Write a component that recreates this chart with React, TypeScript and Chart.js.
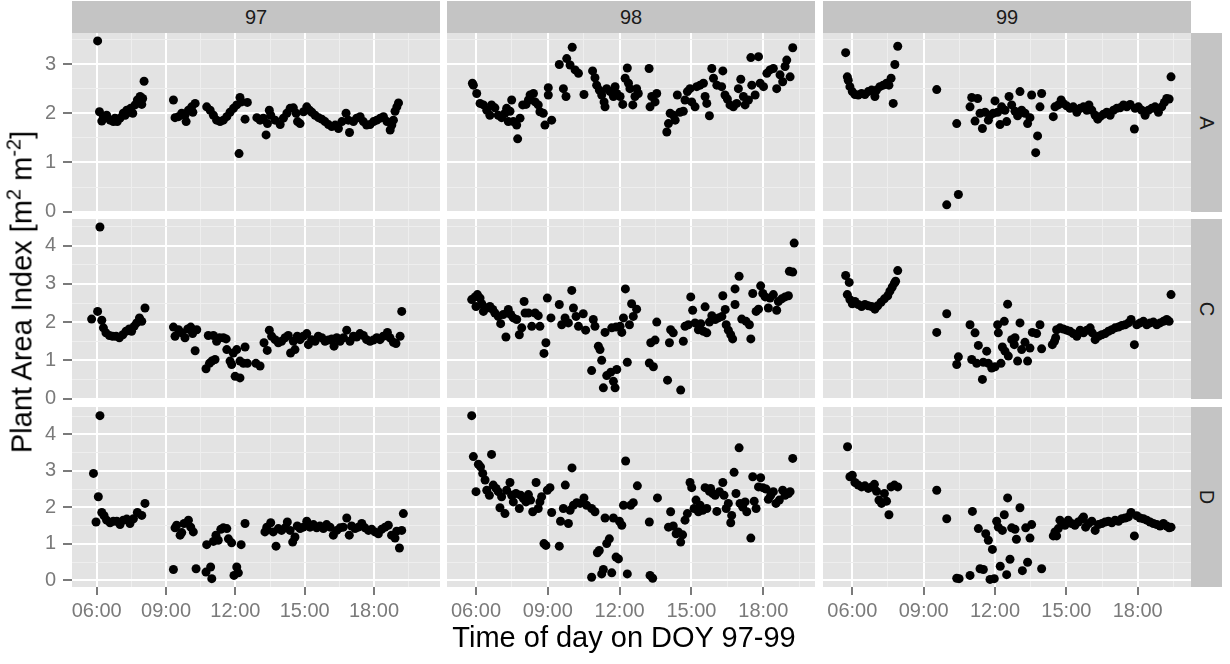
import React, { useEffect, useRef } from 'react';
import { Chart, registerables } from 'chart.js';

Chart.register(...registerables);

// ---------------- data ----------------
const colLabels = ['97', '98', '99'];
const rowLabels = ['A', 'C', 'D'];

const xTickValues = [4.5, 6, 7.5, 9, 10.5, 12, 13.5, 15, 16.5, 18, 19.5, 21];
const yTickValues = [0, 0.5, 1, 1.5, 2, 2.5, 3, 3.5, 4, 4.5];

// x (hour of day) ranges per column, y ranges per row (free scales)
const xRanges: [number, number][] = [[4.931, 20.856], [4.789, 20.16], [4.768, 20.24]];
const yRanges: [number, number][] = [[-0.006, 3.63], [-0.013, 4.7], [-0.178, 4.747]];

const d97A: [number, number][] = [
  [6.04, 3.47], [6.12, 2.03], [6.22, 1.84], [6.29, 1.93], [6.43, 1.96], [6.58, 1.86], [6.72, 1.83], [6.79, 1.9], [6.89, 1.83], [7.01, 1.9], [7.15, 2.0], [7.23, 1.96], [7.3, 2.06], [7.41, 2.02], [7.47, 2.1], [7.56, 2.0], [7.66, 2.17], [7.76, 2.27], [7.88, 2.34], [7.95, 2.18], [7.99, 2.3], [8.05, 2.65],
  [9.32, 2.27], [9.39, 1.91], [9.54, 1.93], [9.68, 2.0], [9.82, 1.96], [9.87, 1.83], [9.97, 2.06], [10.11, 2.13], [10.16, 2.02], [10.26, 2.2],
  [10.76, 2.13], [10.91, 2.06], [11.05, 1.96], [11.19, 1.86], [11.34, 1.83], [11.48, 1.86], [11.63, 1.93], [11.77, 2.02], [11.92, 2.1], [12.06, 2.17], [12.16, 1.18], [12.2, 2.32], [12.27, 2.23], [12.42, 1.88], [12.52, 2.22],
  [12.93, 1.91], [13.07, 1.86], [13.21, 1.9], [13.33, 1.56], [13.39, 1.79], [13.47, 2.06], [13.53, 1.96], [13.72, 1.86], [13.94, 1.77], [14.08, 1.9], [14.23, 2.0], [14.37, 2.1], [14.51, 2.11], [14.63, 2.0], [14.69, 1.83], [14.8, 1.79], [14.95, 2.03], [15.09, 2.13], [15.21, 2.06], [15.31, 2.02], [15.45, 1.96], [15.6, 1.91], [15.74, 1.88], [15.88, 1.83], [16.03, 1.77], [16.17, 1.73], [16.32, 1.76], [16.46, 1.69], [16.61, 1.83], [16.79, 2.0], [16.89, 1.86], [16.94, 1.61], [17.11, 1.83], [17.25, 1.9], [17.4, 1.93], [17.54, 1.83], [17.68, 1.76], [17.83, 1.77], [17.98, 1.83], [18.12, 1.86], [18.27, 1.9], [18.41, 1.93], [18.56, 1.83], [18.7, 1.66], [18.77, 1.76], [18.84, 1.86], [18.91, 2.04], [18.99, 2.13], [19.06, 2.21],
];

const d98A: [number, number][] = [
  [5.85, 2.61], [5.89, 2.57], [6.03, 2.4], [6.17, 2.2], [6.31, 2.17], [6.45, 2.06], [6.58, 1.96], [6.65, 2.17], [6.79, 2.11], [6.93, 1.96], [7.07, 1.91], [7.21, 2.0], [7.28, 2.1], [7.35, 1.83], [7.42, 2.04], [7.49, 2.27], [7.56, 1.83], [7.7, 1.76], [7.74, 1.48], [7.84, 1.9], [7.95, 2.17], [8.09, 2.18], [8.19, 2.27], [8.26, 2.37], [8.4, 2.4], [8.47, 2.23], [8.6, 2.17], [8.67, 2.03], [8.81, 2.0], [8.88, 1.76], [9.02, 2.52], [9.02, 2.37], [9.16, 1.86],
  [9.48, 2.99], [9.65, 2.5], [9.76, 2.34], [9.79, 3.11], [9.93, 2.98], [10.02, 3.34], [10.14, 2.88], [10.28, 2.81], [10.51, 2.38], [10.87, 2.86], [10.97, 2.72], [11.04, 2.57], [11.15, 2.47], [11.25, 2.37], [11.35, 2.23], [11.39, 2.13], [11.46, 2.5], [11.6, 2.44], [11.74, 2.34], [11.81, 2.54], [11.88, 2.4], [12.02, 2.34], [12.13, 2.18], [12.23, 2.71], [12.32, 2.92], [12.37, 2.61], [12.43, 2.5], [12.55, 2.17], [12.64, 2.34], [12.71, 2.5], [12.78, 2.4], [13.23, 2.91], [13.27, 2.13], [13.34, 2.34], [13.48, 2.23], [13.55, 2.4],
  [13.97, 1.62], [14.04, 1.79], [14.11, 2.0], [14.25, 1.96], [14.32, 1.86], [14.41, 2.37], [14.52, 2.02], [14.66, 2.04], [14.73, 2.27], [14.83, 2.44], [14.94, 2.5], [15.01, 2.23], [15.15, 2.13], [15.22, 2.54], [15.36, 2.57], [15.5, 2.61], [15.57, 2.34], [15.64, 2.2], [15.75, 1.95], [15.85, 2.91], [15.92, 2.71], [16.06, 2.57], [16.26, 2.54], [16.31, 2.86], [16.4, 2.37], [16.5, 2.29], [16.61, 2.17], [16.75, 2.13], [16.89, 2.2], [16.96, 2.5], [17.06, 2.69], [17.17, 2.34], [17.24, 2.17], [17.38, 2.27], [17.48, 3.13], [17.52, 2.57], [17.66, 2.37], [17.8, 3.15], [17.87, 2.61], [18.01, 2.54], [18.15, 2.81], [18.28, 2.88], [18.42, 2.91], [18.56, 2.5], [18.7, 2.78], [18.81, 2.64], [18.91, 2.95], [18.98, 3.08], [19.12, 2.74], [19.23, 3.33],
];

const d99A: [number, number][] = [
  [5.72, 3.23], [5.79, 2.74], [5.83, 2.67], [5.9, 2.54], [6.0, 2.44], [6.11, 2.38], [6.25, 2.37], [6.39, 2.4], [6.53, 2.38], [6.67, 2.44], [6.81, 2.47], [6.95, 2.34], [7.02, 2.47], [7.16, 2.54], [7.3, 2.57], [7.44, 2.61], [7.54, 2.57], [7.63, 2.71], [7.72, 2.2], [7.79, 2.99], [7.91, 3.36],
  [9.55, 2.48], [9.97, 0.14], [10.46, 0.35], [10.39, 1.79],
  [10.95, 2.13], [11.02, 2.32], [11.16, 1.84], [11.27, 2.3], [11.37, 2.0], [11.47, 1.69], [11.58, 2.02], [11.72, 1.86], [11.79, 1.96], [11.93, 2.0], [12.0, 2.25], [12.11, 2.02], [12.21, 1.77], [12.28, 2.13], [12.42, 2.06], [12.49, 1.83], [12.59, 2.34], [12.7, 2.17], [12.84, 2.04], [12.95, 1.95], [13.05, 2.44], [13.12, 2.06], [13.26, 2.0], [13.37, 1.79], [13.47, 1.91], [13.54, 2.37], [13.71, 1.2], [13.79, 1.54], [13.89, 2.13], [13.96, 2.4],
  [14.45, 1.93], [14.52, 2.13], [14.66, 2.17], [14.78, 2.27], [14.87, 2.2], [15.01, 2.15], [15.15, 2.1], [15.29, 2.13], [15.44, 2.02], [15.58, 2.1], [15.72, 2.13], [15.86, 2.06], [15.95, 2.17], [16.07, 2.06], [16.21, 1.96], [16.32, 1.88], [16.42, 1.93], [16.56, 1.98], [16.7, 2.02], [16.84, 1.96], [16.98, 2.06], [17.12, 2.1], [17.26, 2.11], [17.4, 2.17], [17.54, 2.13], [17.68, 2.18], [17.86, 1.68], [17.89, 2.1], [18.03, 2.13], [18.17, 2.06], [18.31, 1.96], [18.45, 2.06], [18.59, 2.1], [18.73, 2.13], [18.87, 2.02], [19.01, 2.13], [19.12, 2.22], [19.22, 2.3], [19.32, 2.29], [19.4, 2.74],
];

const d97C: [number, number][] = [
  [5.78, 2.08], [6.04, 2.28], [6.14, 4.49], [6.22, 2.05], [6.29, 1.85], [6.4, 1.72], [6.55, 1.65], [6.69, 1.63], [6.84, 1.63], [6.98, 1.59], [7.13, 1.67], [7.27, 1.76], [7.41, 1.82], [7.51, 1.76], [7.62, 1.89], [7.73, 1.98], [7.85, 2.11], [7.95, 2.02], [8.09, 2.37],
  [9.32, 1.87], [9.39, 1.63], [9.54, 1.8], [9.68, 1.72], [9.82, 1.59], [9.94, 1.82], [10.07, 1.87], [10.15, 1.7], [10.26, 1.25], [10.33, 1.8],
  [10.73, 0.78], [10.83, 1.65], [10.88, 0.92], [10.98, 0.98], [11.05, 1.65], [11.12, 1.02], [11.19, 1.5], [11.31, 1.59], [11.48, 1.59], [11.6, 1.56], [11.63, 1.28], [11.77, 0.98], [11.84, 0.89], [11.91, 1.19], [11.99, 0.58], [12.06, 1.28], [12.2, 0.54], [12.2, 0.98], [12.35, 0.92], [12.42, 1.35], [12.52, 0.92], [12.89, 0.92], [13.07, 0.85],
  [13.24, 1.46], [13.38, 1.26], [13.47, 1.79], [13.57, 1.63], [13.72, 1.54], [13.86, 1.46], [14.0, 1.5], [14.15, 1.59], [14.29, 1.65], [14.39, 1.19], [14.51, 1.5], [14.58, 1.28], [14.68, 1.63], [14.8, 1.54], [14.94, 1.63], [15.09, 1.7], [15.16, 1.41], [15.3, 1.54], [15.45, 1.5], [15.59, 1.63], [15.74, 1.59], [15.88, 1.5], [16.02, 1.53], [16.17, 1.56], [16.27, 1.37], [16.39, 1.59], [16.53, 1.5], [16.68, 1.59], [16.82, 1.79], [16.96, 1.5], [17.11, 1.63], [17.25, 1.61], [17.39, 1.7], [17.54, 1.65], [17.68, 1.54], [17.83, 1.5], [17.97, 1.53], [18.12, 1.59], [18.26, 1.54], [18.4, 1.63], [18.58, 1.73], [18.69, 1.59], [18.84, 1.47], [18.95, 1.44], [19.13, 1.63], [19.2, 2.28],
];

const d98C: [number, number][] = [
  [5.82, 2.59], [5.96, 2.66], [6.0, 2.41], [6.06, 2.72], [6.17, 2.63], [6.24, 2.48], [6.31, 2.28], [6.45, 2.37], [6.58, 2.41], [6.7, 2.33], [6.79, 2.24], [6.93, 2.15], [7.03, 1.96], [7.14, 2.2], [7.25, 1.61], [7.35, 2.33], [7.45, 2.2], [7.56, 2.11], [7.7, 2.07], [7.81, 1.67], [7.91, 1.85], [8.01, 2.54], [8.05, 2.24], [8.19, 2.24], [8.33, 1.89], [8.47, 2.24], [8.6, 2.17], [8.67, 1.89], [8.84, 1.18], [8.92, 1.46], [8.98, 2.63], [9.13, 2.11],
  [9.48, 2.46], [9.58, 1.93], [9.72, 2.11], [9.86, 1.98], [10.0, 2.83], [10.07, 2.37], [10.18, 2.15], [10.28, 1.89], [10.48, 2.22], [10.58, 1.79], [10.83, 0.73], [10.9, 2.07], [10.97, 1.89], [11.11, 1.37], [11.18, 1.28], [11.25, 1.0], [11.32, 0.28], [11.39, 1.73], [11.46, 0.6], [11.63, 0.69], [11.67, 1.85], [11.74, 0.45], [11.81, 0.28], [11.85, 1.87], [11.88, 0.76], [12.02, 1.89], [12.09, 1.73], [12.16, 2.11], [12.24, 2.87], [12.32, 0.95], [12.41, 1.93], [12.5, 2.48], [12.57, 2.15], [12.71, 2.34],
  [13.24, 0.93], [13.3, 1.46], [13.41, 0.83], [13.48, 1.53], [13.55, 2.0], [14.0, 0.48], [14.08, 1.46], [14.13, 1.8], [14.24, 1.72], [14.55, 0.22], [14.66, 1.5], [14.73, 1.89], [14.87, 1.93], [14.97, 2.66], [15.05, 2.31], [15.15, 1.98], [15.29, 1.8], [15.39, 1.96], [15.5, 1.76], [15.57, 2.4], [15.64, 1.72], [15.75, 2.0], [15.85, 2.17], [15.99, 2.07], [16.13, 2.11], [16.27, 2.15], [16.31, 2.69], [16.41, 2.33], [16.45, 1.93], [16.54, 1.79], [16.64, 1.67], [16.72, 1.56], [16.82, 2.46], [16.82, 2.87], [16.99, 3.2], [17.1, 2.08], [17.28, 2.02], [17.42, 1.93], [17.48, 1.56], [17.56, 2.75], [17.7, 2.28], [17.8, 2.34], [17.89, 2.95], [17.98, 2.75], [18.08, 2.66], [18.21, 2.37], [18.28, 2.63], [18.42, 2.72], [18.56, 2.31], [18.63, 2.54], [18.77, 2.61], [18.91, 2.66], [19.05, 2.69], [19.09, 3.33], [19.23, 3.31], [19.29, 4.07],
];

const d99C: [number, number][] = [
  [5.72, 3.22], [5.79, 2.72], [5.87, 3.04], [5.9, 2.59], [6.0, 2.48], [6.11, 2.54], [6.25, 2.46], [6.39, 2.41], [6.53, 2.46], [6.67, 2.43], [6.81, 2.41], [6.95, 2.34], [7.07, 2.43], [7.21, 2.52], [7.35, 2.61], [7.49, 2.69], [7.58, 2.81], [7.68, 2.92], [7.77, 3.02], [7.82, 3.07], [7.91, 3.35],
  [9.55, 1.73], [9.97, 2.22],
  [10.39, 0.89], [10.46, 1.09], [10.95, 1.93], [11.02, 1.02], [11.16, 1.72], [11.23, 0.92], [11.3, 1.39], [11.47, 0.5], [11.51, 0.95], [11.65, 1.24], [11.72, 0.92], [11.86, 0.8], [12.0, 0.83], [12.11, 1.93], [12.14, 1.72], [12.25, 0.92], [12.31, 1.35], [12.39, 2.02], [12.42, 1.24], [12.53, 2.47], [12.56, 1.11], [12.7, 1.54], [12.81, 1.41], [12.84, 1.59], [12.95, 0.98], [13.05, 1.98], [13.12, 1.28], [13.26, 1.47], [13.37, 0.98], [13.47, 1.32], [13.57, 1.73], [13.75, 1.7], [13.89, 1.93], [13.96, 1.3],
  [14.41, 1.41], [14.5, 1.5], [14.55, 1.59], [14.59, 1.8], [14.73, 1.85], [14.87, 1.82], [15.01, 1.79], [15.15, 1.76], [15.29, 1.7], [15.44, 1.63], [15.58, 1.79], [15.72, 1.72], [15.86, 1.79], [16.0, 1.85], [16.09, 1.72], [16.21, 1.54], [16.35, 1.63], [16.49, 1.67], [16.63, 1.7], [16.77, 1.76], [16.91, 1.8], [17.05, 1.85], [17.19, 1.87], [17.33, 1.91], [17.47, 1.93], [17.61, 1.98], [17.72, 2.07], [17.86, 1.41], [17.96, 1.93], [18.1, 1.98], [18.24, 2.02], [18.38, 1.93], [18.52, 1.98], [18.66, 2.0], [18.8, 1.93], [18.94, 1.98], [19.08, 2.02], [19.22, 2.07], [19.32, 2.02], [19.4, 2.72],
];

const d97D: [number, number][] = [
  [5.86, 2.93], [5.97, 1.6], [6.07, 2.29], [6.14, 4.51], [6.22, 1.86], [6.32, 1.77], [6.43, 1.65], [6.58, 1.58], [6.72, 1.62], [6.87, 1.62], [7.01, 1.53], [7.15, 1.65], [7.3, 1.68], [7.44, 1.56], [7.59, 1.69], [7.76, 1.86], [7.95, 1.78], [8.09, 2.11],
  [9.32, 0.3], [9.39, 1.44], [9.46, 1.51], [9.61, 1.24], [9.68, 1.31], [9.78, 1.56], [9.97, 1.65], [10.07, 1.46], [10.18, 1.33], [10.3, 0.32], [10.73, 0.23], [10.76, 0.98], [10.93, 0.37], [10.98, 0.05], [11.05, 1.07], [11.16, 1.24], [11.26, 1.1], [11.37, 1.4], [11.48, 1.44], [11.63, 1.42], [11.7, 1.14], [11.84, 1.03], [11.94, 0.14], [12.06, 0.37], [12.13, 0.21], [12.25, 0.98], [12.42, 1.56],
  [13.28, 1.33], [13.36, 1.46], [13.53, 1.58], [13.64, 1.33], [13.76, 0.94], [13.86, 1.42], [14.0, 1.37], [14.15, 1.44], [14.25, 1.6], [14.37, 1.37], [14.48, 1.05], [14.58, 1.19], [14.68, 1.49], [14.8, 1.42], [14.94, 1.46], [15.09, 1.62], [15.23, 1.46], [15.38, 1.53], [15.52, 1.44], [15.66, 1.49], [15.81, 1.42], [15.95, 1.53], [16.1, 1.46], [16.24, 1.24], [16.39, 1.37], [16.53, 1.44], [16.67, 1.46], [16.82, 1.71], [16.93, 1.24], [17.03, 1.49], [17.18, 1.42], [17.32, 1.46], [17.47, 1.56], [17.61, 1.44], [17.76, 1.37], [17.9, 1.4], [18.04, 1.33], [18.19, 1.28], [18.33, 1.4], [18.48, 1.46], [18.62, 1.51], [18.76, 1.24], [18.91, 1.16], [18.98, 1.35], [19.1, 0.89], [19.2, 1.37], [19.27, 1.83],
];

const d98D: [number, number][] = [
  [5.82, 4.51], [5.89, 3.39], [6.0, 2.43], [6.1, 3.18], [6.19, 3.11], [6.28, 2.93], [6.38, 2.75], [6.45, 2.47], [6.56, 2.33], [6.65, 3.45], [6.72, 2.61], [6.84, 2.52], [6.93, 2.43], [7.0, 1.99], [7.07, 2.29], [7.21, 1.83], [7.28, 2.47], [7.42, 2.68], [7.49, 2.33], [7.56, 2.15], [7.67, 2.38], [7.81, 1.97], [7.87, 2.33], [7.98, 2.24], [8.09, 2.15], [8.19, 2.35], [8.28, 2.2], [8.37, 1.88], [8.51, 2.68], [8.6, 1.97], [8.67, 2.15], [8.74, 2.29], [8.84, 1.01], [8.92, 0.96], [8.98, 2.47], [9.09, 2.54], [9.16, 1.86],
  [9.48, 0.94], [9.53, 1.62], [9.65, 1.97], [9.73, 2.61], [9.86, 1.56], [9.93, 1.92], [10.01, 3.08], [10.07, 2.06], [10.21, 2.13], [10.35, 2.11], [10.51, 2.26], [10.62, 2.06], [10.83, 1.97], [10.83, 0.09], [10.97, 1.88], [11.07, 0.76], [11.15, 0.82], [11.25, 0.18], [11.32, 0.3], [11.39, 1.71], [11.46, 1.01], [11.57, 1.14], [11.67, 0.21], [11.74, 1.71], [11.85, 0.64], [11.95, 0.59], [11.99, 1.62], [12.09, 1.51], [12.16, 2.06], [12.25, 3.27], [12.32, 0.18], [12.46, 2.06], [12.57, 2.13], [12.74, 2.59], [13.24, 1.6], [13.27, 0.14], [13.38, 0.06], [13.58, 2.26],
  [14.04, 1.46], [14.13, 1.88], [14.24, 1.49], [14.36, 1.28], [14.45, 1.33], [14.55, 1.05], [14.63, 1.25], [14.73, 1.65], [14.83, 1.83], [14.94, 2.68], [15.01, 2.54], [15.11, 1.97], [15.19, 2.2], [15.29, 1.88], [15.36, 2.06], [15.47, 1.92], [15.57, 2.54], [15.64, 1.97], [15.75, 2.44], [15.8, 2.52], [15.89, 2.38], [15.99, 2.33], [16.06, 1.89], [16.17, 2.43], [16.31, 2.68], [16.36, 2.33], [16.45, 1.97], [16.54, 2.11], [16.64, 1.58], [16.68, 1.78], [16.78, 2.96], [16.86, 2.38], [16.99, 3.63], [17.03, 2.11], [17.14, 2.01], [17.24, 2.15], [17.31, 1.88], [17.48, 1.16], [17.56, 2.84], [17.62, 2.17], [17.7, 1.97], [17.8, 2.56], [17.89, 2.81], [17.98, 2.54], [18.12, 2.5], [18.21, 2.22], [18.31, 2.33], [18.42, 2.43], [18.53, 2.11], [18.67, 2.2], [18.81, 2.47], [18.91, 2.33], [19.05, 2.38], [19.12, 2.43], [19.23, 3.34],
];

const d99D: [number, number][] = [
  [5.8, 3.66], [5.9, 2.84], [6.0, 2.88], [6.11, 2.68], [6.25, 2.61], [6.39, 2.56], [6.53, 2.59], [6.67, 2.52], [6.81, 2.56], [6.93, 2.63], [7.02, 2.44], [7.12, 2.2], [7.23, 2.11], [7.35, 2.38], [7.44, 2.17], [7.54, 1.8], [7.63, 2.56], [7.77, 2.61], [7.91, 2.56],
  [9.55, 2.47], [9.97, 1.69],
  [10.39, 0.06], [10.49, 0.05], [10.95, 0.14], [11.05, 1.89], [11.3, 1.42], [11.37, 0.32], [11.51, 0.3], [11.61, 1.28], [11.72, 1.1], [11.79, 0.03], [11.89, 0.85], [11.97, 0.05], [12.07, 1.62], [12.14, 1.46], [12.22, 0.39], [12.31, 1.37], [12.39, 1.8], [12.49, 0.16], [12.53, 2.26], [12.63, 0.58], [12.7, 1.44], [12.84, 1.4], [12.9, 1.13], [13.05, 1.99], [13.15, 0.27], [13.29, 1.44], [13.37, 0.5], [13.47, 1.16], [13.54, 1.53], [13.96, 0.32],
  [14.45, 1.22], [14.52, 1.33], [14.59, 1.22], [14.66, 1.42], [14.73, 1.65], [14.83, 1.56], [14.94, 1.51], [15.08, 1.65], [15.22, 1.56], [15.36, 1.51], [15.5, 1.6], [15.65, 1.68], [15.72, 1.74], [15.81, 1.46], [15.93, 1.56], [16.07, 1.62], [16.21, 1.37], [16.35, 1.53], [16.49, 1.56], [16.63, 1.6], [16.77, 1.62], [16.91, 1.58], [17.05, 1.65], [17.19, 1.62], [17.33, 1.69], [17.47, 1.71], [17.61, 1.74], [17.72, 1.86], [17.86, 1.22], [17.96, 1.77], [18.1, 1.71], [18.24, 1.69], [18.38, 1.65], [18.52, 1.6], [18.66, 1.56], [18.8, 1.53], [18.94, 1.49], [19.08, 1.56], [19.22, 1.49], [19.32, 1.44], [19.4, 1.46],
];

const panelData: [number, number][][][] = [
  [d97A, d98A, d99A],
  [d97C, d98C, d99C],
  [d97D, d98D, d99D],
];

// ---------------- layout & style ----------------
const FONT = "'Liberation Sans', Arial, Helvetica, sans-serif";
const COL_L = [72, 447, 823];
const COL_W = 368;
const ROW_T = [33, 219, 407];
const ROW_H = [179, 180, 180];
const PAD = 14;
const X_AXIS_H = 40;
const PANEL_BG = '#E3E3E3';
const STRIP_BG = '#C4C4C4';
const MINOR = '#EEEEEE';
const TICK_COLOR = '#7A7A7A';

const isMajorX = (v: number) => Math.abs(v / 3 - Math.round(v / 3)) < 1e-6;
const isMajorY = (v: number) => Math.abs(v - Math.round(v)) < 1e-6;
const fmtHour = (v: number) => String(Math.round(v)).padStart(2, '0') + ':00';

const bgPlugin = {
  id: 'panelBg',
  beforeDraw(chart: any) {
    const { ctx, chartArea } = chart;
    ctx.save();
    ctx.fillStyle = PANEL_BG;
    ctx.fillRect(chartArea.left, chartArea.top, chartArea.right - chartArea.left, chartArea.bottom - chartArea.top);
    ctx.restore();
  },
};

function canvasBox(r: number, c: number) {
  const left = COL_L[c] - PAD - (c === 0 ? COL_L[0] - PAD : 0);
  const top = ROW_T[r] - PAD;
  const width = COL_W + 2 * PAD + (c === 0 ? COL_L[0] - PAD : 0);
  const height = ROW_H[r] + 2 * PAD + (r === 2 ? X_AXIS_H : 0);
  return { left, top, width, height };
}

export default function App() {
  const refs = useRef<(HTMLCanvasElement | null)[]>([]);

  useEffect(() => {
    const charts: Chart[] = [];
    for (let r = 0; r < 3; r++) {
      for (let c = 0; c < 3; c++) {
        const canvas = refs.current[r * 3 + c];
        if (!canvas) continue;
        const showX = r === 2;
        const showY = c === 0;
        const [xmin, xmax] = xRanges[c];
        const [ymin, ymax] = yRanges[r];
        const chart = new Chart(canvas, {
          type: 'scatter',
          data: {
            datasets: [
              {
                data: panelData[r][c].map(([x, y]) => ({ x, y })),
                backgroundColor: '#000000',
                borderColor: '#000000',
                borderWidth: 0,
                pointRadius: 4.5,
                pointHoverRadius: 4.5,
                clip: 0,
              } as any,
            ],
          },
          options: {
            animation: false,
            responsive: false,
            events: [],
            layout: { padding: PAD },
            plugins: { legend: { display: false }, tooltip: { enabled: false } },
            scales: {
              x: {
                type: 'linear',
                min: xmin,
                max: xmax,
                afterBuildTicks: (s: any) => {
                  s.ticks = xTickValues.filter((v) => v >= xmin && v <= xmax).map((v) => ({ value: v }));
                },
                afterFit: (s: any) => {
                  s.height = showX ? X_AXIS_H : 0;
                  s.paddingLeft = 0; s.paddingRight = 0; s.paddingTop = 0; s.paddingBottom = 0;
                },
                border: { display: false },
                grid: {
                  color: (ctx: any) => (isMajorX(ctx.tick ? ctx.tick.value : 0) ? '#FFFFFF' : MINOR),
                  lineWidth: (ctx: any) => (isMajorX(ctx.tick ? ctx.tick.value : 0) ? 2 : 1),
                  drawTicks: showX,
                  tickLength: 8,
                  tickWidth: 2,
                  tickColor: (ctx: any) => (isMajorX(ctx.tick ? ctx.tick.value : 0) ? TICK_COLOR : 'rgba(0,0,0,0)'),
                },
                ticks: {
                  display: showX,
                  autoSkip: false,
                  maxRotation: 0,
                  minRotation: 0,
                  padding: 4,
                  color: TICK_COLOR,
                  font: { family: FONT, size: 20 },
                  callback: (v: any) => (isMajorX(Number(v)) ? fmtHour(Number(v)) : ''),
                },
              },
              y: {
                type: 'linear',
                min: ymin,
                max: ymax,
                afterBuildTicks: (s: any) => {
                  s.ticks = yTickValues.filter((v) => v >= ymin && v <= ymax).map((v) => ({ value: v }));
                },
                afterFit: (s: any) => {
                  s.width = showY ? COL_L[0] - PAD : 0;
                  s.paddingLeft = 0; s.paddingRight = 0; s.paddingTop = 0; s.paddingBottom = 0;
                },
                border: { display: false },
                grid: {
                  color: (ctx: any) => (isMajorY(ctx.tick ? ctx.tick.value : 0) ? '#FFFFFF' : MINOR),
                  lineWidth: (ctx: any) => (isMajorY(ctx.tick ? ctx.tick.value : 0) ? 2 : 1),
                  drawTicks: showY,
                  tickLength: 9,
                  tickWidth: 2,
                  tickColor: (ctx: any) => (isMajorY(ctx.tick ? ctx.tick.value : 0) ? TICK_COLOR : 'rgba(0,0,0,0)'),
                },
                ticks: {
                  display: showY,
                  autoSkip: false,
                  padding: 7,
                  color: TICK_COLOR,
                  font: { family: FONT, size: 20 },
                  callback: (v: any) => (isMajorY(Number(v)) ? String(Math.round(Number(v))) : ''),
                },
              },
            },
          } as any,
          plugins: [bgPlugin],
        });
        charts.push(chart);
      }
    }
    return () => charts.forEach((ch) => ch.destroy());
  }, []);

  const canvases: React.ReactNode[] = [];
  for (let r = 0; r < 3; r++) {
    for (let c = 0; c < 3; c++) {
      const b = canvasBox(r, c);
      const i = r * 3 + c;
      canvases.push(
        <canvas
          key={'cv' + i}
          ref={(el) => { refs.current[i] = el; }}
          width={b.width}
          height={b.height}
          style={{ position: 'absolute', left: b.left, top: b.top, width: b.width, height: b.height }}
        />
      );
    }
  }

  return (
    <div style={{ position: 'absolute', left: 0, top: 0, width: 1230, height: 664, background: '#FFFFFF', overflow: 'hidden', fontFamily: FONT }}>
      {colLabels.map((lab, c) => (
        <div key={'ts' + c} style={{ position: 'absolute', left: COL_L[c], top: 1, width: COL_W, height: 32, background: STRIP_BG, color: '#1A1A1A', fontSize: 20, lineHeight: '32px', textAlign: 'center' }}>
          {lab}
        </div>
      ))}
      {rowLabels.map((lab, r) => (
        <div key={'rs' + r} style={{ position: 'absolute', left: COL_L[2] + COL_W, top: ROW_T[r], width: 31, height: ROW_H[r], background: STRIP_BG }}>
          <div style={{ position: 'absolute', left: '50%', top: '50%', transform: 'translate(-50%, -50%) rotate(90deg)', color: '#1A1A1A', fontSize: 20, lineHeight: '20px', whiteSpace: 'nowrap' }}>
            {lab}
          </div>
        </div>
      ))}
      {canvases}
      <div style={{ position: 'absolute', left: 624, top: 623, transform: 'translateX(-50%)', fontSize: 29, lineHeight: '29px', color: '#000', whiteSpace: 'nowrap' }}>
        Time of day on DOY 97-99
      </div>
      <div style={{ position: 'absolute', left: 22, top: 292, transform: 'translate(-50%, -50%) rotate(-90deg)', fontSize: 29, lineHeight: '29px', color: '#000', whiteSpace: 'nowrap' }}>
        Plant Area Index [m<sup style={{ fontSize: 20, verticalAlign: 'super', lineHeight: 0 }}>2</sup> m<sup style={{ fontSize: 20, verticalAlign: 'super', lineHeight: 0 }}>-2</sup>]
      </div>
    </div>
  );
}
